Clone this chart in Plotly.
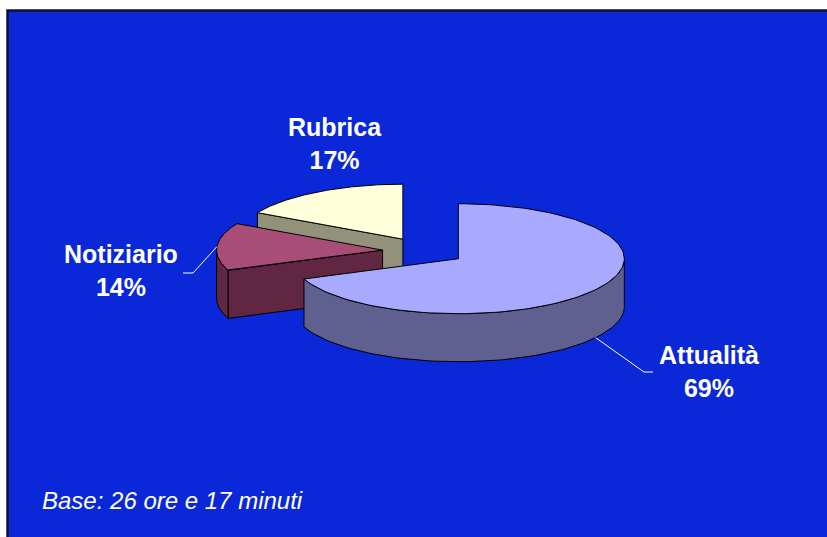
import numpy as np
import plotly.graph_objects as go

# data
labels = ["Attualità", "Notiziario", "Rubrica"]
values = [69, 14, 17]
top_colors = ["#a8aaff", "#a84c78", "#ffffdc"]
side_colors = ["#606090", "#602642", "#92927a"]
footnote = "Base: 26 ore e 17 minuti"

# 3d pie geometry (pixel space of the page)
CX, CY = 424, 251
A, B = 166, 55
DEPTH = 48
EXPLODE = 0.25
BG = "#0a28d8"
W, H = 827, 537

fig = go.Figure()


def ell(cx, cy, th, dy=0.0):
    return cx + A * np.sin(th), cy - B * np.cos(th) + dy


def poly(xs, ys, fill):
    fig.add_scatter(
        x=list(xs) + [xs[0]], y=list(ys) + [ys[0]],
        mode="lines", fill="toself", fillcolor=fill,
        line=dict(color="black", width=1),
        hoverinfo="skip", showlegend=False,
    )


fr = np.array(values, dtype=float) / sum(values)
ends = np.cumsum(fr) * 2 * np.pi
starts = ends - fr * 2 * np.pi

slices = []
for i in range(len(values)):
    t0, t1 = starts[i], ends[i]
    tm = (t0 + t1) / 2
    cx = CX + EXPLODE * A * np.sin(tm)
    cy = CY - EXPLODE * B * np.cos(tm)
    slices.append((cy, i, t0, t1, tm, cx))

# back to front
for cy, i, t0, t1, tm, cx in sorted(slices):
    # curved side, front half only
    s0, s1 = max(t0, np.pi / 2), min(t1, 3 * np.pi / 2)
    if s1 > s0:
        th = np.linspace(s0, s1, 80)
        xt, yt = ell(cx, cy, th)
        xb, yb = ell(cx, cy, th[::-1], DEPTH)
        poly(np.r_[xt, xb], np.r_[yt, yb], side_colors[i])
    # radial walls facing the viewer
    for t, vis in ((t0, np.sin(t0) < -1e-6), (t1, np.sin(t1) > 1e-6)):
        if vis:
            ox, oy = ell(cx, cy, t)
            poly([cx, ox, ox, cx], [cy, oy, oy + DEPTH, cy + DEPTH], side_colors[i])
    # top face
    th = np.linspace(t0, t1, 120)
    xt, yt = ell(cx, cy, th)
    poly(np.r_[cx, xt], np.r_[cy, yt], top_colors[i])

# labels
label_pos = {0: (709, 371), 1: (121, 270), 2: (335, 143)}
leader_bend = {0: [(644, 372), (653, 372)], 1: [(193, 273), (183, 273)]}
for cy, i, t0, t1, tm, cx in slices:
    if i in leader_bend:
        sx, sy = ell(cx, cy, tm, DEPTH if np.cos(tm) < 0 else 0)
        pts = [(sx, sy)] + leader_bend[i]
        fig.add_scatter(
            x=[p[0] for p in pts], y=[p[1] for p in pts], mode="lines",
            line=dict(color="white", width=1), hoverinfo="skip", showlegend=False,
        )
    lx, ly = label_pos[i]
    fig.add_annotation(
        x=lx, y=ly, text=f"<b>{labels[i]}</b><br><b>{values[i]}%</b>",
        showarrow=False, xanchor="center", yanchor="middle",
        font=dict(family="Liberation Sans, Arial", size=25, color="white"),
    )

fig.add_annotation(
    x=40, y=500, text=f"<i>{footnote}</i>", showarrow=False,
    xanchor="left", yanchor="middle",
    font=dict(family="Liberation Sans, Arial", size=24, color="white"),
)

fig.add_shape(
    type="rect", x0=7.5, y0=10.5, x1=W + 20, y1=H + 20, layer="below",
    fillcolor=BG, line=dict(color="#101030", width=2.5),
)

fig.update_layout(
    width=W, height=H, margin=dict(l=0, r=0, t=0, b=0),
    paper_bgcolor="white", plot_bgcolor="white",
    xaxis=dict(range=[0, W], visible=False, fixedrange=True),
    yaxis=dict(range=[H, 0], visible=False, fixedrange=True),
)

fig.write_html(
    "out.html",
    config={"displayModeBar": False},
    post_script="document.body.style.margin='0';document.body.style.overflow='hidden';",
)
